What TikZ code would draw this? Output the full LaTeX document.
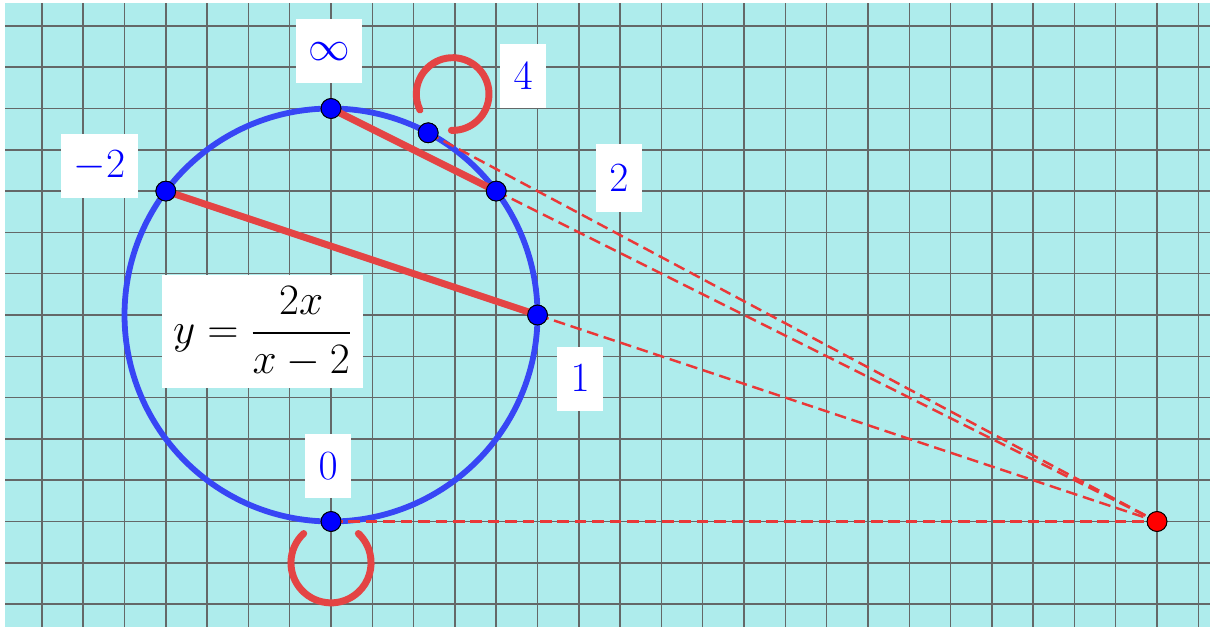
\documentclass[tikz,border=0pt]{standalone}
\usepackage{amsmath}
\usepackage{graphicx}
\definecolor{bgcyan}{RGB}{174,236,236}
\definecolor{gridgray}{RGB}{100,104,104}
\definecolor{circblue}{RGB}{55,70,245}
\definecolor{segred}{RGB}{228,68,68}
\definecolor{dashred}{RGB}{234,56,56}
\newcommand{\bigtxt}[2]{\scalebox{#1}{#2}}
\tikzset{
  bdot/.style={circle,fill=blue,draw=black,line width=0.6pt,minimum size=0.48cm,inner sep=0pt},
  rdot/.style={circle,fill=red,draw=black,line width=0.6pt,minimum size=0.48cm,inner sep=0pt},
  lbl/.style={fill=white,text=blue,font=\fontsize{24.88}{30}\selectfont,minimum height=1.55cm,inner xsep=0.27cm,inner ysep=0pt},
  redseg/.style={segred,line width=4.8pt},
  dashline/.style={dashred,line width=1.7pt,dash pattern=on 8pt off 4pt},
  loopline/.style={segred,line width=4.8pt,line cap=round},
}
\begin{document}
\begin{tikzpicture}
\useasboundingbox (-8.015,-7.554) rectangle (21.283,7.627);
\fill[bgcyan] (-7.89,-7.554) rectangle (21.283,7.554);
\draw[gridgray,line width=1pt,step=1] (-7.89,-7.554) grid (21.283,7.554);
% circle
\draw[circblue,line width=4pt] (0,0) circle[radius=5];
% points
\coordinate (O) at (0,0);
\node[bdot] (pinf) at (0,5) {};
\node[bdot] (pm2) at (-4,3) {};
\node[bdot] (p2) at (4,3) {};
\node[bdot] (p1) at (5,0) {};
\node[bdot] (p0) at (0,-5) {};
\node[bdot] (p4) at (2.3529,4.4118) {};
\node[rdot] (P) at (20,-5) {};
% red segments
\draw[redseg] (pinf.center) -- (p2.center);
\draw[redseg] (pm2.center) -- (p1.center);
% dashed lines
\draw[dashline] (p0.center) -- (P.center);
\draw[dashline] (p1.center) -- (P.center);
\draw[dashline] (p2.center) -- (P.center);
\draw[dashline] (p4.center) -- (P.center);
% loops
\coordinate (c4) at (2.945,5.35);
\coordinate (c0) at (0,-6);
\draw[loopline] (c4) ++(-92:0.88) arc[start angle=-92,end angle=206,radius=0.88];
\draw[loopline] (c0) ++(133:0.97) arc[start angle=133,end angle=407,radius=0.97];
% redraw dots on top
\node[bdot] at (pinf) {};
\node[bdot] at (pm2) {};
\node[bdot] at (p2) {};
\node[bdot] at (p1) {};
\node[bdot] at (p0) {};
\node[bdot] at (p4) {};
\node[rdot] at (P) {};
% labels
\node[lbl,minimum width=1.59cm] (linf) at (-0.05,6.385) {\bigtxt{1.15}{$\infty$}};
\node[lbl,minimum width=1.1cm] (l4) at (4.65,5.79) {\bigtxt{1.15}{$4$}};
\node[lbl,minimum width=1.88cm] (lm2) at (-5.605,3.608) {\bigtxt{1.15}{$-2$}};
\node[lbl,minimum width=1.1cm,minimum height=1.65cm] (l2) at (6.97,3.317) {\bigtxt{1.15}{$2$}};
\node[lbl,minimum width=1.1cm] (l1) at (6.03,-1.54) {\bigtxt{1.15}{$1$}};
\node[lbl,minimum width=1.1cm] (l0) at (-0.07,-3.66) {\bigtxt{1.15}{$0$}};
\node[fill=white,text=black,font=\fontsize{24.88}{30}\selectfont,minimum width=4.88cm,minimum height=2.74cm,inner sep=0pt] (eq) at (-1.66,-0.40) {\bigtxt{1.2}{$y=\dfrac{2x}{x-2}$}};
\end{tikzpicture}
\end{document}
